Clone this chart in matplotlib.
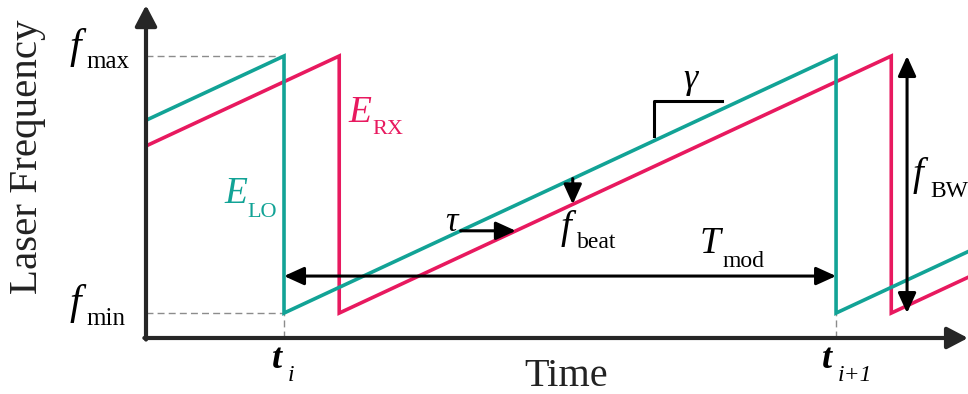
"""FMCW sawtooth: LO vs delayed RX laser frequency over time."""
import matplotlib

matplotlib.use("Agg")
import matplotlib.pyplot as plt  # noqa: E402
import numpy as np  # noqa: E402

# ---------------------------------------------------------------------------
# Data (time in units of T_mod, frequency normalised to f_min=0, f_max=1)
# ---------------------------------------------------------------------------
T_MOD = 1.0
TAU = 0.10
F_MIN, F_MAX = 0.0, 1.0
T_I = 0.0
RAMP_STARTS = [-1.0, 0.0, 1.0]          # start of each LO chirp
T_RANGE = (-0.25, 1.239)                # visible time span
F_AXIS = -0.097                         # frequency where the time axis sits
F_TOP = 1.198                           # tip of the frequency axis
TAU_AT = 0.32                           # where the delay arrow is drawn
BEAT_AT = 0.523                         # where the beat arrow is drawn
GAMMA_AT = (0.670, 0.793, 0.69, 0.825)  # slope bracket x0, x1, y0, y1
T_MOD_ARROW_F = 0.144
F_BW_ARROW_T = 1.1286

TEAL = "#12a396"
PINK = "#e8195f"
AXIS = "#262626"
GRID = "#8c8c8c"
SERIF = ["Liberation Serif", "DejaVu Serif"]

plt.rcParams.update({
    "font.family": SERIF,
    "mathtext.fontset": "custom",
    "mathtext.rm": "Liberation Serif",
    "mathtext.it": "Liberation Serif:italic",
})


def sawtooth(starts, delay):
    ts, fs = [], []
    for s in starts:
        ts += [s + delay, s + delay + T_MOD, s + delay + T_MOD]
        fs += [F_MIN, F_MAX, F_MIN]
    return np.array(ts), np.array(fs)


def symbol(ax, main, mpos, sub, spos, size=27, subsize=17, color="black",
           weight="normal", substyle="normal"):
    """Italic symbol with a roman subscript, both placed at their baselines."""
    ax.text(*mpos, main, fontsize=size, fontstyle="italic", fontweight=weight,
            color=color, ha="left", va="baseline", clip_on=False)
    ax.text(*spos, sub, fontsize=subsize, fontstyle=substyle, color=color,
            ha="left", va="baseline", clip_on=False)


fig = plt.figure(figsize=(9.68, 3.94), dpi=100)
ax = fig.add_axes([146 / 968, 56 / 394, 822 / 968, 338 / 394])
ax.set_xlim(*T_RANGE)
ax.set_ylim(F_AXIS, 1.2179)
ax.axis("off")

# chirps
t_lo, f_lo = sawtooth(RAMP_STARTS, 0.0)
t_rx, f_rx = sawtooth(RAMP_STARTS, TAU)
ax.plot(t_rx, f_rx, color=PINK, lw=2.6, solid_joinstyle="miter", zorder=3)
ax.plot(t_lo, f_lo, color=TEAL, lw=2.6, solid_joinstyle="miter", zorder=4)

# dashed guides
dash = dict(color=GRID, lw=1.0, ls=(0, (5, 3)), clip_on=False, zorder=2)
ax.plot([T_RANGE[0], T_I], [F_MAX, F_MAX], **dash)
ax.plot([T_RANGE[0], T_I], [F_MIN, F_MIN], **dash)
ax.plot([T_I, T_I], [F_AXIS, F_MIN], **dash)
ax.plot([T_I + T_MOD, T_I + T_MOD], [F_AXIS, F_MIN], **dash)

# axes with arrowheads
ax_arrow = dict(arrowstyle="-|>,head_length=0.42,head_width=0.22", color=AXIS,
                lw=3.0, mutation_scale=30, shrinkA=0, shrinkB=0)
ax.annotate("", xy=(T_RANGE[0], F_TOP), xytext=(T_RANGE[0], F_AXIS - 0.006),
            arrowprops=ax_arrow, annotation_clip=False, zorder=5)
ax.annotate("", xy=(T_RANGE[1], F_AXIS), xytext=(T_RANGE[0] - 0.003, F_AXIS),
            arrowprops=ax_arrow, annotation_clip=False, zorder=5)

# black annotation arrows
one = dict(arrowstyle="-|>,head_length=0.55,head_width=0.25", color="black",
           lw=2.2, mutation_scale=22, shrinkA=0, shrinkB=0)
two = dict(arrowstyle="<|-|>,head_length=0.55,head_width=0.25", color="black",
           lw=2.2, mutation_scale=22, shrinkA=0, shrinkB=0)
ax.annotate("", xy=(TAU_AT + TAU, TAU_AT), xytext=(TAU_AT, TAU_AT), arrowprops=one, zorder=6)
ax.annotate("", xy=(BEAT_AT, BEAT_AT - TAU), xytext=(BEAT_AT, BEAT_AT), arrowprops=one, zorder=6)
ax.annotate("", xy=(T_I + T_MOD, T_MOD_ARROW_F), xytext=(T_I, T_MOD_ARROW_F),
            arrowprops=two, zorder=6)
ax.annotate("", xy=(F_BW_ARROW_T, F_MIN), xytext=(F_BW_ARROW_T, F_MAX),
            arrowprops=two, zorder=6)

g0, g1, gy0, gy1 = GAMMA_AT
ax.plot([g0, g0, g1], [gy0, gy1, gy1], color="black", lw=2.2, zorder=6)

# labels
ax.text(-0.464, 0.607, "Laser Frequency", rotation=90, ha="center", va="center",
        fontsize=29.5, color="#222222", clip_on=False)
ax.text(0.511, -0.283, "Time", ha="center", va="baseline", fontsize=29,
        color="#222222", clip_on=False)

symbol(ax, "f", (-0.389, 0.992), "max", (-0.357, 0.953), size=30, subsize=18)
symbol(ax, "f", (-0.389, -0.004), "min", (-0.357, -0.047), size=30, subsize=18)
symbol(ax, "t", (-0.022, -0.212), "i", (0.0075, -0.265), size=26, subsize=17,
       weight="bold", substyle="italic")
symbol(ax, "t", (0.9745, -0.212), "i+1", (1.0038, -0.265), size=26, subsize=17,
       weight="bold", substyle="italic")
symbol(ax, "E", (-0.1087, 0.428), "LO", (-0.067, 0.3735), color=TEAL, subsize=16)
symbol(ax, "E", (0.1159, 0.743), "RX", (0.1594, 0.6965), color=PINK, subsize=16)
symbol(ax, "f", (0.5018, 0.292), "beat", (0.5308, 0.253), size=28, subsize=17)
symbol(ax, "T", (0.7536, 0.2335), "mod", (0.7935, 0.179), subsize=17)
symbol(ax, "f", (1.1377, 0.498), "BW", (1.1703, 0.451), size=28, subsize=17)

ax.text(0.304, 0.354, "τ", ha="center", va="center", fontsize=25, fontstyle="italic")
ax.text(0.736, 0.907, "γ", ha="center", va="center", fontsize=26, fontstyle="italic")

fig.savefig("out.png", dpi=100)
